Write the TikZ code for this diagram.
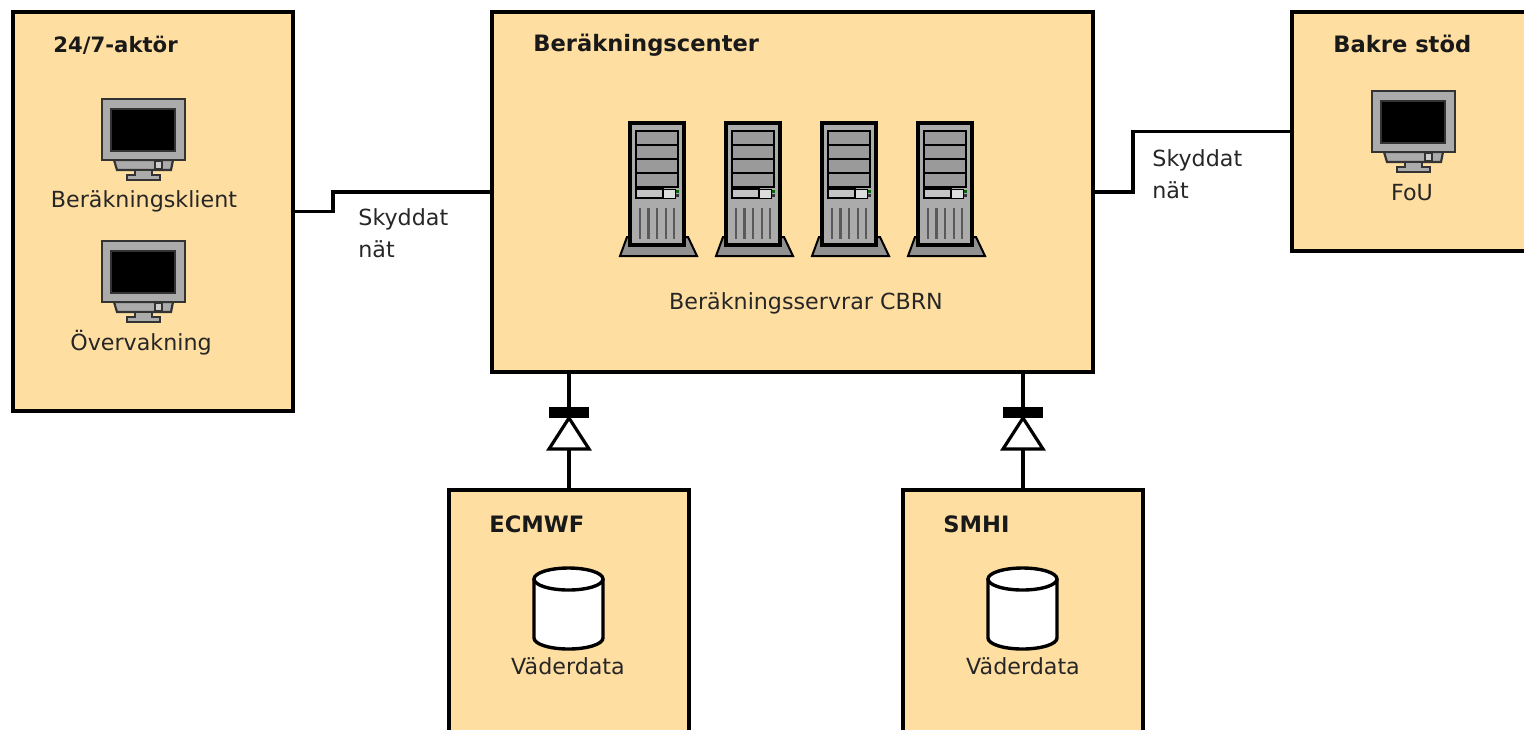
\documentclass[tikz,border=0pt]{standalone}
\usepackage{fontspec}
\setmainfont{DejaVu Sans}
\usepackage{tikz}
\definecolor{sand}{HTML}{FFDEA1}
\definecolor{casing}{HTML}{ABABAB}

\begin{document}
\begin{tikzpicture}[x=0.5pt,y=-0.5pt,
    monitor/.pic={
      \draw[line width=1.1pt,black!80,fill=casing] (12,61) -- (71,61) -- (69,71) -- (15,71) -- cycle;
      \draw[line width=0.9pt,black!80,fill=casing] (33,71) -- (50,71) -- (50,76) -- (58,76) -- (58,81) -- (25,81) -- (25,76) -- (33,76) -- cycle;
      \draw[line width=1.3pt,black!80,fill=casing] (0,0) rectangle (83,61);
      \draw[line width=0.8pt,black!80,fill=black] (9,10) rectangle (73,52);
      \draw[line width=0.7pt,black!80,fill=casing!60!white] (53,62) rectangle (60,70);
    },
    tower/.pic={
      \draw[line width=1pt,fill=casing!85!black] (-3,114) -- (-10,133) -- (67,133) -- (58,114) -- cycle;
      \draw[line width=1.6pt,fill=casing] (0,0) rectangle (54,122);
      \foreach \row in {0,1,2,3}
        \draw[line width=1pt,fill=casing!90!black] (6,8+14*\row) rectangle (48,22+14*\row);
      \draw[line width=0.8pt,fill=casing!70!white] (6,66) rectangle (33,75);
      \draw[line width=0.5pt,fill=white!60!casing] (33,66) rectangle (45,75);
      \fill[green!40!black] (46,67) rectangle (49,70);
      \fill[black!70!casing] (46,71) rectangle (49,74);
      \foreach \slot in {10,18.5,27,36,44}
        \draw[line width=1.4pt,black!65] (\slot,85) -- (\slot,116);
    },
    barrel/.pic={
      \draw[line width=1.7pt,fill=white] (0,11) -- (0,70) arc[start angle=180,end angle=0,x radius=34.5,y radius=11] -- (69,11);
      \draw[line width=1.7pt,fill=white] (34.5,11) ellipse[x radius=34.5,y radius=11];
    },
    valve/.pic={
      \draw[line width=1.6pt,fill=white] (0,0) -- (-20,31) -- (20,31) -- cycle;
      \fill[black] (-20,-11) rectangle (20,0);
    }]
    \tikzstyle{box}=[draw, rectangle, line width=1.8pt, fill=sand, inner sep=0, outer sep=0];
    \tikzstyle{head}=[font=\bfseries\fontsize{11.3}{13}\selectfont, text=black!90, inner sep=0];
    \tikzstyle{lbl}=[font=\fontsize{11.1}{13}\selectfont, text=black!85, inner sep=0];
    \tikzstyle{link}=[line width=1.6pt];

    \useasboundingbox (0,0) rectangle (1524,729);

    \node[box,minimum width=280*0.5pt,minimum height=399*0.5pt] at (153,211.5) (aktor) {};
    \node[box,minimum width=601*0.5pt,minimum height=360*0.5pt] at (792.5,192) (center) {};
    \node[box,minimum width=240*0.5pt,minimum height=239*0.5pt,anchor=west] at (1292,131.5) (bakre) {};
    \node[box,minimum width=240*0.5pt,minimum height=260*0.5pt] at (569,620) (ecmwf) {};
    \node[box,minimum width=240*0.5pt,minimum height=260*0.5pt] at (1023,620) (smhi) {};

    \draw[link] (aktor.east) -- ++(40,0) |- (center.west);
    \draw[link] (center.east) -- ++(40,0) |- (bakre.west);
    \draw[link] (ecmwf.north) -- (ecmwf.north |- center.south);
    \draw[link] (smhi.north) -- (smhi.north |- center.south);

    \pic at (569,418) {valve};
    \pic at (1023,418) {valve};

    \node[head,font=\bfseries\fontsize{10.6}{13}\selectfont,anchor=west] at (53,45) (aktorhead) {24/7-aktör};
    \node[head,anchor=west] at (533,45) (centerhead) {Beräkningscenter};
    \node[head,anchor=west] at (1333,44) (bakrehead) {Bakre stöd};
    \node[head,anchor=west] at (489,524) (ecmwfhead) {ECMWF};
    \node[head,anchor=west] at (943,524) (smhihead) {SMHI};

    \pic at (102,99) {monitor};
    \pic at (102,241) {monitor};
    \pic at (1372,91) {monitor};
    \foreach \x in {630,726,822,918}
      \pic at (\x,123) {tower};
    \pic at (534,568) {barrel};
    \pic at (988,568) {barrel};

    \node[lbl] at (144,201) (klient) {Beräkningsklient};
    \node[lbl] at (141,343) (vakt) {Övervakning};
    \node[lbl] at (1412,193) (fou) {FoU};
    \node[lbl] at (806,303) (servrar) {Beräkningsservrar CBRN};
    \node[lbl] at (568,666) (data) {Väderdata};
    \node[lbl] at (1023,666) (datab) {Väderdata};
    \node[lbl,anchor=west] at (358,219) (skydd) {Skyddat};
    \node[lbl,anchor=west] at (358,249) (nat) {nät};
    \node[lbl,anchor=west] at (1152,160) (skyddb) {Skyddat};
    \node[lbl,anchor=west] at (1152,190) (natb) {nät};
  \end{tikzpicture}
\end{document}
